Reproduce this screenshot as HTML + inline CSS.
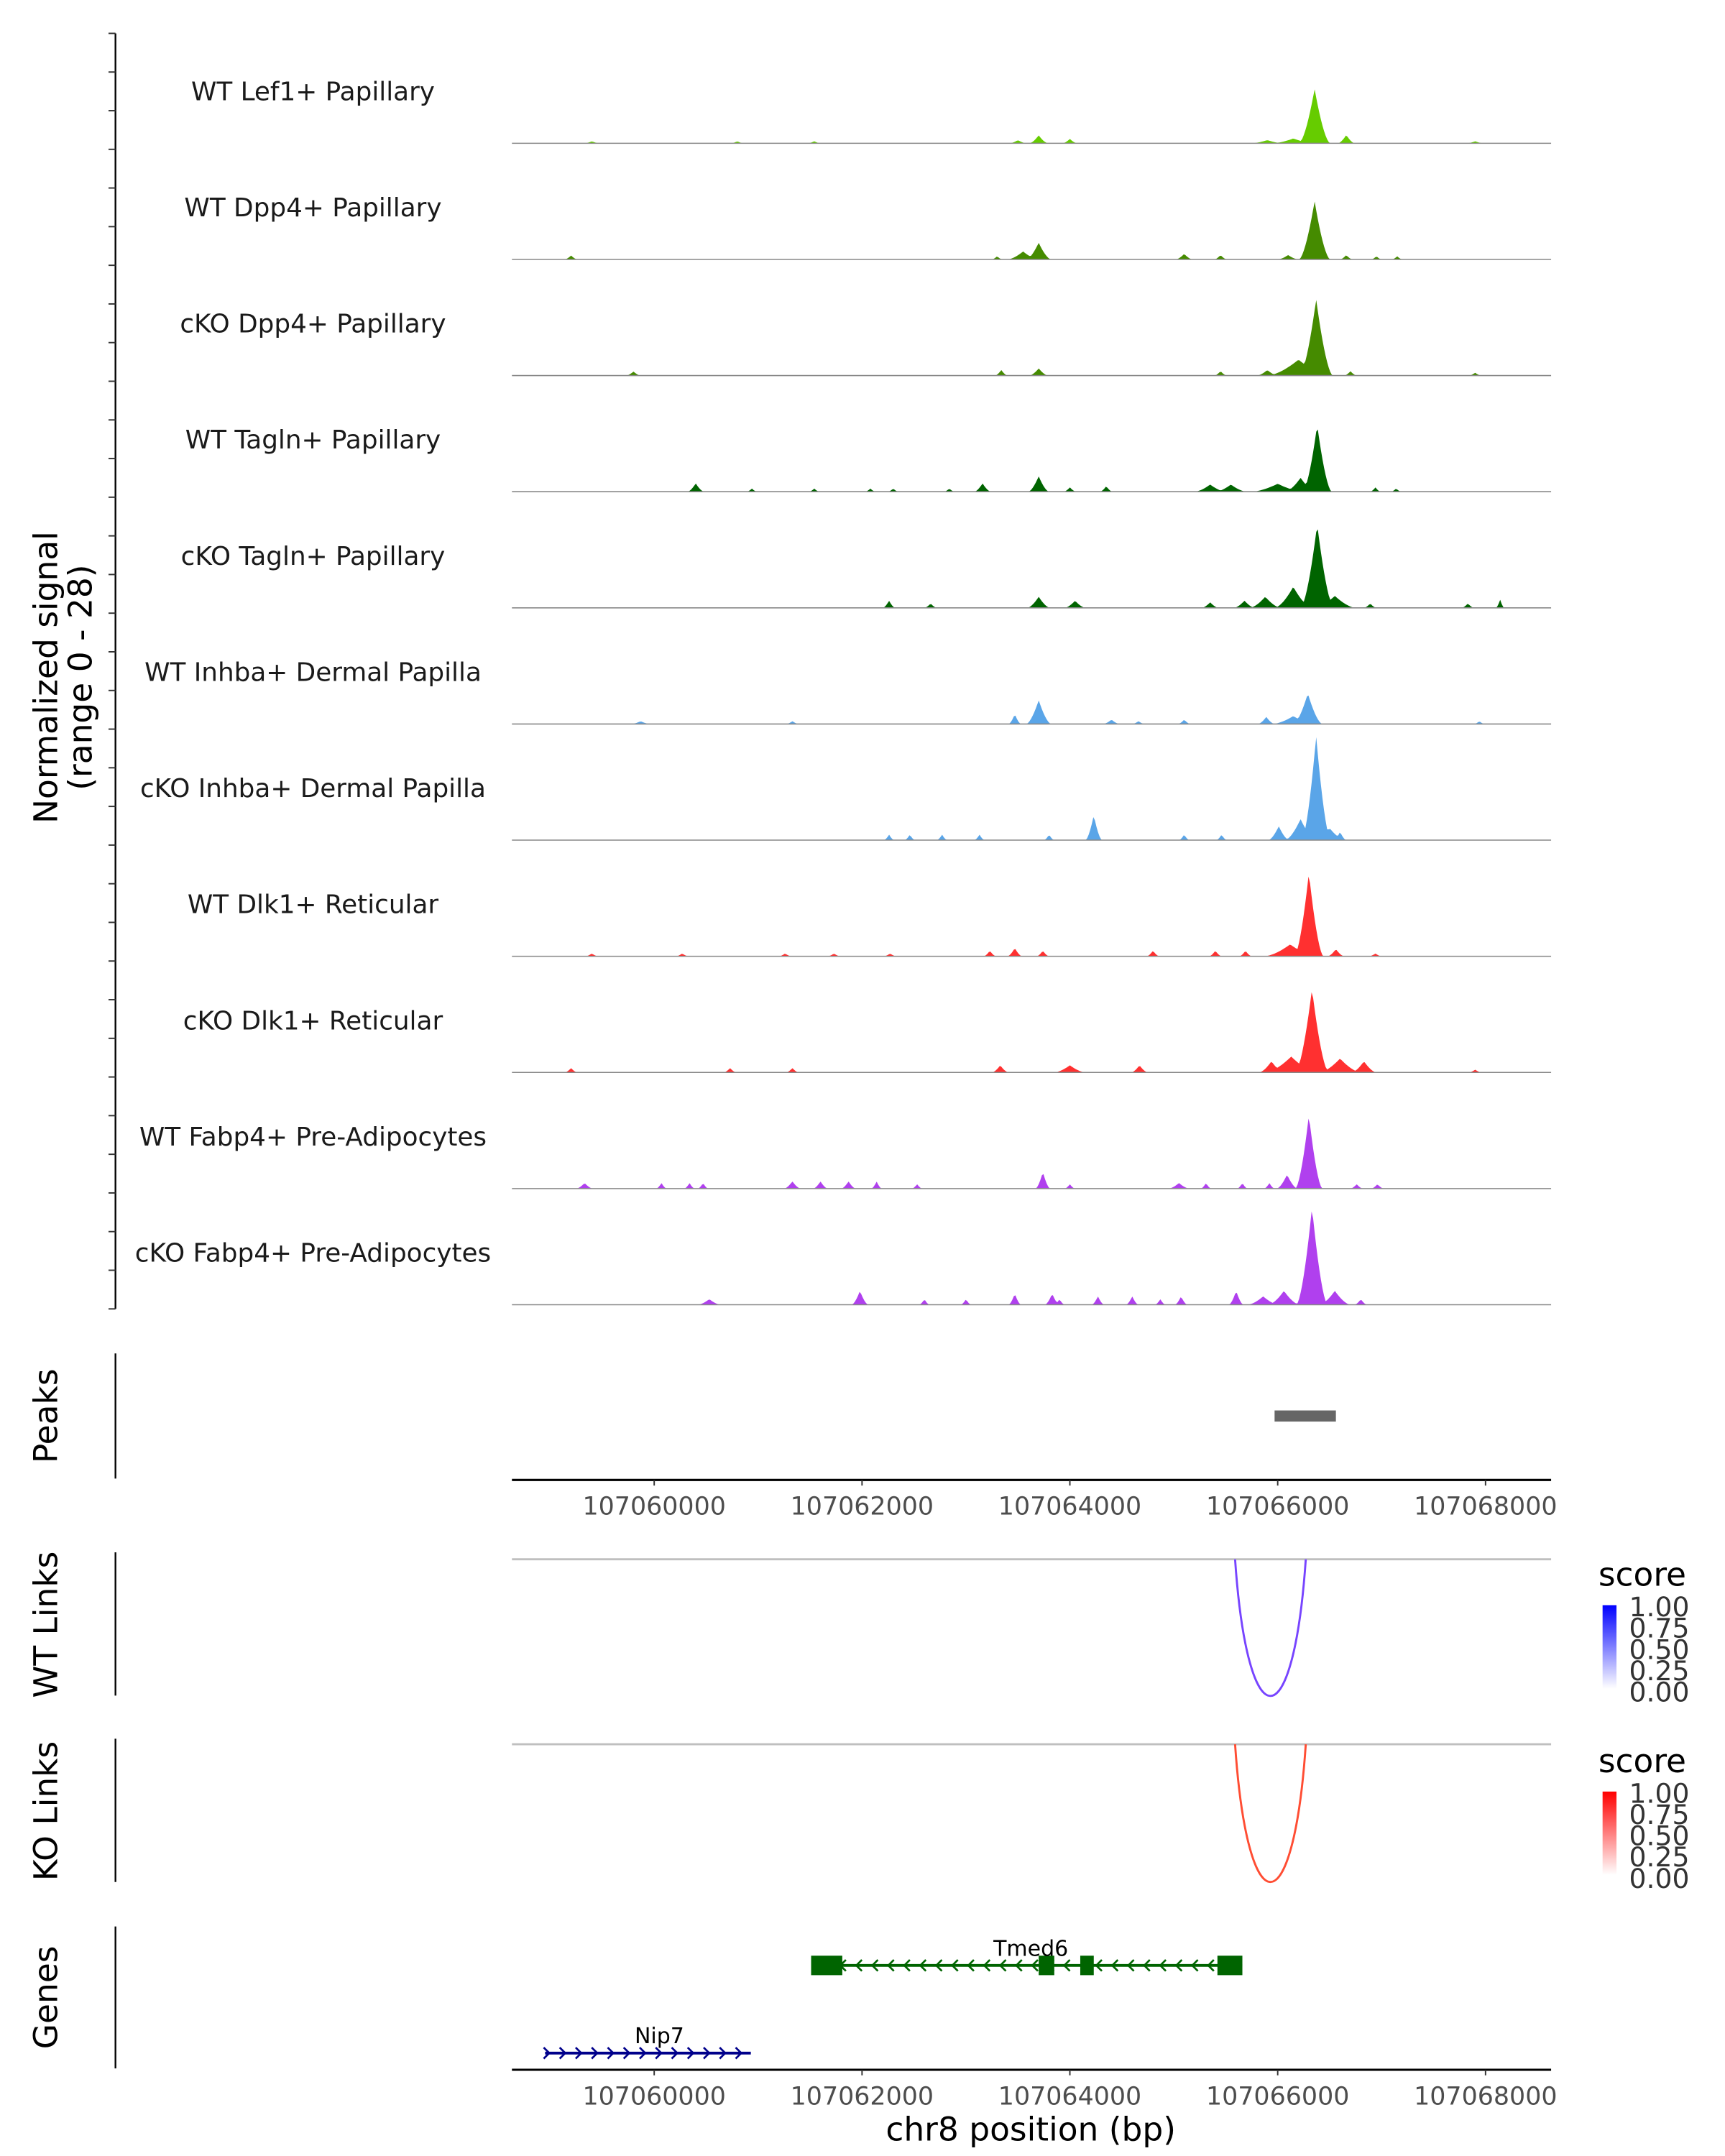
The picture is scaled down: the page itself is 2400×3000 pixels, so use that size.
<!DOCTYPE html>
<html><head><meta charset="utf-8"><style>
html,body{margin:0;padding:0;background:#fff}
svg{display:block;font-family:"DejaVu Sans","Liberation Sans",sans-serif}
</style></head><body>
<svg id="chart" width="2400" height="3000" viewBox="0 0 1240 1550" xmlns="http://www.w3.org/2000/svg">
<rect width="1240" height="1550" fill="#fff"/>
<g id="tracks"></g>
<g id="static"></g>
</svg>
<script>
const NS="http://www.w3.org/2000/svg";
const trackNames=["WT Lef1+ Papillary","WT Dpp4+ Papillary","cKO Dpp4+ Papillary","WT Tagln+ Papillary","cKO Tagln+ Papillary","WT Inhba+ Dermal Papilla","cKO Inhba+ Dermal Papilla","WT Dlk1+ Reticular","cKO Dlk1+ Reticular","WT Fabp4+ Pre-Adipocytes","cKO Fabp4+ Pre-Adipocytes"];
const trackColors=["#66cc00","#458b00","#458b00","#006400","#006400","#5aa5e8","#5aa5e8","#ff3030","#ff3030","#b040ee","#b040ee"];
// bump centers (bp), heights (signal units 0-28), half-widths (bp)
const centers=[
[107066355,107066660,107063700,107064000,107066150,107059400,107060800,107061540,107067900,107065900,107063500],
[107066355,107063700,107065100,107065450,107066100,107066660,107059200,107063300,107066950,107067150,107063550],
[107066370,107066100,107065900,107063700,107063340,107065450,107066700,107059800,107067900,107066200],
[107066380,107066220,107063700,107063160,107060400,107065350,107065550,107064350,107064000,107060940,107061540,107062080,107062300,107062840,107066940,107067140,107066000],
[107066380,107066150,107065880,107065680,107063700,107062260,107064050,107062660,107065350,107068140,107067830,107066890,107066550],
[107066290,107063700,107063470,107065890,107064400,107064660,107065100,107059870,107061330,107067940,107066150],
[107066370,107066220,107066010,107064230,107063800,107062260,107062460,107062770,107063130,107065100,107065460,107066600,107066500],
[107066300,107066560,107063470,107063230,107063740,107064800,107065400,107065690,107059400,107060270,107061260,107061730,107062270,107066940,107066120],
[107066330,107065940,107066830,107059200,107064000,107064670,107063330,107060730,107061330,107067900,107066130,107066600],
[107066300,107066090,107063740,107059330,107060070,107060340,107060470,107061330,107061600,107061870,107062140,107062530,107064000,107065050,107065310,107065660,107065920,107066760,107066960],
[107066330,107066060,107065600,107065860,107061980,107060530,107063470,107063830,107064270,107064600,107065070,107062600,107063000,107063900,107064870,107066800,107066550]
];
const heights=[
[13.7,2.1,2.0,1.1,1.2,0.5,0.5,0.5,0.5,0.8,0.8],
[14.7,4.2,1.4,1.1,1.1,1.1,1.0,0.8,0.8,0.8,2.0],
[19.2,1.8,1.4,1.8,1.4,1.1,1.1,1.0,0.7,4.0],
[16.8,3.5,3.9,2.1,2.1,1.8,1.8,1.4,1.1,0.8,0.8,0.8,0.8,0.8,1.1,0.8,2.0],
[21.0,5.3,2.8,1.8,2.8,1.8,1.8,1.1,1.4,2.1,1.1,1.1,3.0],
[7.7,6.0,2.5,1.8,1.1,0.7,1.1,0.7,0.7,0.7,2.0],
[26.2,5.3,3.5,6.3,1.4,1.4,1.4,1.4,1.4,1.4,1.4,2.1,3.0],
[21.0,1.8,2.1,1.4,1.4,1.4,1.4,1.4,0.7,0.7,0.7,0.7,0.7,0.7,3.0],
[21.0,2.8,2.8,1.1,1.8,1.8,1.8,1.1,1.1,0.7,4.0,3.5],
[18.5,3.5,4.2,1.4,1.4,1.4,1.4,1.8,1.8,1.8,1.8,1.1,1.1,1.4,1.4,1.4,1.4,1.1,1.1],
[24.5,3.5,3.5,2.1,3.5,1.4,2.8,2.8,2.1,2.1,2.1,1.4,1.4,1.4,1.4,1.4,3.5]
];
const halfWidths=[
[150,80,90,70,200,70,60,60,80,150,80],
[150,120,80,60,100,60,60,50,50,50,150],
[160,150,100,90,60,60,60,70,60,300],
[140,150,100,80,80,150,150,60,60,50,50,50,50,50,50,50,250],
[160,180,150,100,110,60,100,60,80,40,60,60,200],
[140,120,60,80,80,60,60,90,60,50,200],
[140,150,100,80,50,50,50,50,50,50,50,60,150],
[140,80,70,60,60,60,60,60,60,60,60,60,60,60,250],
[160,120,120,60,150,80,80,60,60,60,250,200],
[130,100,70,80,50,50,50,80,70,70,50,50,50,100,50,50,50,60,60],
[150,150,70,150,80,110,60,70,60,60,60,50,50,50,50,60,150]
];
const xTicks=[107060000,107062000,107064000,107066000,107068000];
const peakRegions=[[107065970,107066560]];
const wtLink=[107065630,107066230];
const koLink=[107065630,107066230];
const tmed6Exons=[[107061510,107061810],[107063700,107063850],[107064100,107064230],[107065420,107065660]];
const tmed6Span=[107061510,107065660];
const nip7Span=[107058950,107060930];

const X0=368,X1=1115,BP0=107058631,BP1=107068631;
const sx=bp=>X0+(bp-BP0)/(BP1-BP0)*(X1-X0);
const base0=103,step=83.5,yMax=28,hPx=80;
const tg=document.getElementById('tracks');
const sg=document.getElementById('static');
function el(tag,attrs,parent,text){const e=document.createElementNS(NS,tag);for(const k in attrs)e.setAttribute(k,attrs[k]);if(text!==undefined)e.textContent=text;parent.appendChild(e);return e;}

for(let t=0;t<trackNames.length;t++){
  const by=base0+t*step;
  const g=el('g',{},tg);
  
  
  const lab=el('text',{x:225,y:by-31,'font-size':18.5,'text-anchor':'middle',fill:'#1a1a1a'},g,trackNames[t]);
  
  
  let pts=[];
  for(let bp=BP0;bp<=BP1;bp+=15){
    let v=0;
    for(let i=0;i<centers[t].length;i++){const d=Math.abs(bp-centers[t][i]);const w=halfWidths[t][i];if(d<w){const s=1-d/w;v=Math.max(v,heights[t][i]*Math.pow(s,1.6));}}
    pts.push([sx(bp),by-v/yMax*hPx]);
  }
  let d='M'+X0+','+by+' '+pts.map(p=>'L'+p[0].toFixed(2)+','+p[1].toFixed(2)).join(' ')+' L'+X1+','+by+' Z';
  const area=el('path',{d:d,fill:trackColors[t]},g);
  
  
  const bl=el('line',{x1:X0,x2:X1,y1:by,y2:by,stroke:'#888','stroke-width':0.8},g);
  
  
}
const la=el('line',{x1:83,x2:83,y1:24,y2:941,stroke:'#000','stroke-width':1.2},sg);


for(let i=0;i<=33;i++){const y=24+i*(941-24)/33;const tk=el('line',{x1:78,x2:83,y1:y,y2:y,stroke:'#333','stroke-width':1},sg);

}
const yt=el('text',{transform:'translate(41,487) rotate(-90)','font-size':23.5,'text-anchor':'middle',fill:'#000'},sg);


el('tspan',{x:0,dy:0},yt,'Normalized signal');
el('tspan',{x:0,dy:25},yt,'(range 0 - 28)');

function panelAxis(y1,y2,label,cy,name){
  const a=el('line',{x1:83,x2:83,y1:y1,y2:y2,stroke:'#000','stroke-width':1.2},sg);
  
  
  const t=el('text',{transform:'translate(41,'+cy+') rotate(-90)','font-size':23.5,'text-anchor':'middle',fill:'#000'},sg,label);
  
  
}
panelAxis(973,1063,'Peaks',1018,'peaks');
panelAxis(1116,1219,'WT Links',1168,'wt-links');
panelAxis(1250,1353,'KO Links',1302,'ko-links');
panelAxis(1385,1487,'Genes',1436,'genes');

peakRegions.forEach(r=>{const p=el('rect',{x:sx(r[0]),y:1014,width:sx(r[1])-sx(r[0]),height:8,fill:'#666'},sg);

});

function xAxis(y,name){
  const a=el('line',{x1:X0,x2:X1,y1:y,y2:y,stroke:'#000','stroke-width':1.6},sg);
  
  
  xTicks.forEach(v=>{
    const tk=el('line',{x1:sx(v),x2:sx(v),y1:y,y2:y+4,stroke:'#333','stroke-width':1},sg);
    
    
    const tl=el('text',{x:sx(v),y:y+25,'font-size':18,'text-anchor':'middle',fill:'#4d4d4d'},sg,String(v));
    
    
  });
}
xAxis(1064,'peaks-x-axis');
xAxis(1488,'genes-x-axis');
const xt=el('text',{x:741,y:1539,'font-size':23.5,'text-anchor':'middle',fill:'#000'},sg,'chr8 position (bp)');



function links(topY,botY,link,color,gradId,top,c2,name){
  const gl=el('line',{x1:X0,x2:X1,y1:topY,y2:topY,stroke:'#bfbfbf','stroke-width':1.5},sg);
  
  
  const a=sx(link[0]),b=sx(link[1]);
  const arc=el('path',{d:`M${a-3},${topY} C${a+6},${botY+36} ${b-6},${botY+36} ${b+3},${topY}`,fill:'none',stroke:color,'stroke-width':1.5},sg);
  
  
  const defs=el('defs',{},sg);
  const lg=el('linearGradient',{id:gradId,x1:0,y1:1,x2:0,y2:0},defs);
  el('stop',{offset:0,'stop-color':'#ffffff'},lg);el('stop',{offset:1,'stop-color':c2},lg);
  const st=el('text',{x:1149,y:top,'font-size':23.5,fill:'#000'},sg,'score');
  
  
  const cb=el('rect',{x:1152,y:top+14,width:10,height:60,fill:`url(#${gradId})`},sg);
  
  
  ['1.00','0.75','0.50','0.25','0.00'].forEach((s,i)=>{const t=el('text',{x:1171,y:top+22+i*15.3,'font-size':19.5,fill:'#333'},sg,s);
  
  });
}
links(1121,1216,wtLink,'#7744ff','gW',1140,'#0000ff','wt-links');
links(1254,1350,koLink,'#ff4d33','gK',1274,'#ff0000','ko-links');

const ty=1413;
const tl=el('line',{x1:sx(tmed6Span[0]),x2:sx(tmed6Span[1]),y1:ty,y2:ty,stroke:'#006400','stroke-width':2},sg);


for(let x=sx(tmed6Span[0])+22;x<sx(tmed6Span[1])-10;x+=11.5){el('path',{d:`M${x+3},${ty-4} L${x-1},${ty} L${x+3},${ty+4}`,fill:'none',stroke:'#006400','stroke-width':1.4},sg);}
tmed6Exons.forEach(e=>{const r=el('rect',{x:sx(e[0]),y:ty-7,width:sx(e[1])-sx(e[0]),height:14,fill:'#006400'},sg);

});
const tml=el('text',{x:741,y:ty-7,'font-size':15.5,'text-anchor':'middle',fill:'#000'},sg,'Tmed6');


const ny=1476;
const nl=el('line',{x1:sx(nip7Span[0]),x2:sx(nip7Span[1]),y1:ny,y2:ny,stroke:'#00008b','stroke-width':2},sg);


for(let x=sx(nip7Span[0])+2;x<=sx(nip7Span[1]);x+=11.5){el('path',{d:`M${x-3},${ny-4} L${x+1},${ny} L${x-3},${ny+4}`,fill:'none',stroke:'#00008b','stroke-width':1.4},sg);}
const nml=el('text',{x:474,y:ny-7,'font-size':15.5,'text-anchor':'middle',fill:'#000'},sg,'Nip7');


</script>
</body></html>
